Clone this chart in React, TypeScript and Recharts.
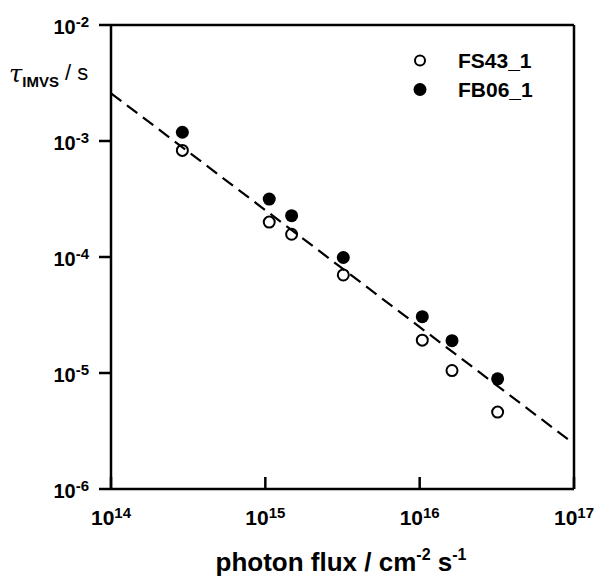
import React from "react";
import {
  ScatterChart,
  Scatter,
  XAxis,
  YAxis,
  ReferenceLine,
  Legend,
} from "recharts";

// photon flux (cm^-2 s^-1) and tau IMVS (s)
const fluxFS43 = [2.9e14, 1.06e15, 1.48e15, 3.2e15, 1.04e16, 1.62e16, 3.2e16];
const tauFS43 = [8.3e-4, 2.0e-4, 1.57e-4, 7.0e-5, 1.92e-5, 1.05e-5, 4.6e-6];

const fluxFB06 = [2.9e14, 1.06e15, 1.48e15, 3.2e15, 1.04e16, 1.62e16, 3.2e16];
const tauFB06 = [1.19e-3, 3.16e-4, 2.27e-4, 9.9e-5, 3.06e-5, 1.9e-5, 8.9e-6];

// dashed fit line end points
const fitFlux = [1e14, 1e17];
const fitTau = [2.58e-3, 2.45e-6];

const xTicks = [1e14, 1e15, 1e16, 1e17];
const yTicks = [1e-6, 1e-5, 1e-4, 1e-3, 1e-2];

const toPoints = (xs: number[], ys: number[]) =>
  xs.map((x, i) => ({ x, y: ys[i] }));

const fs43 = toPoints(fluxFS43, tauFS43);
const fb06 = toPoints(fluxFB06, tauFB06);
const fit = toPoints(fitFlux, fitTau);

const font = "'Liberation Sans', Arial, sans-serif";
const exp = (v: number) => Math.round(Math.log10(v));

const XTick = (props: any) => {
  const { x, y, payload } = props;
  return (
    <text x={x} y={y} textAnchor="middle" fontFamily={font} fontWeight="bold" fill="#000">
      <tspan fontSize={21} dy={48}>10</tspan>
      <tspan fontSize={15} dy={-7}>{exp(payload.value)}</tspan>
    </text>
  );
};

const YTick = (props: any) => {
  const { x, y, payload } = props;
  return (
    <text x={x - 8} y={y} textAnchor="end" fontFamily={font} fontWeight="bold" fill="#000">
      <tspan fontSize={20} dy={9}>10</tspan>
      <tspan fontSize={15} dy={-7}>{exp(payload.value)}</tspan>
    </text>
  );
};

const OpenDot = (props: any) => (
  <circle cx={props.cx} cy={props.cy} r={5.5} fill="#fff" stroke="#000" strokeWidth={2} />
);
const FilledDot = (props: any) => (
  <circle cx={props.cx} cy={props.cy} r={6.5} fill="#000" />
);

const LegendBox = () => (
  <div style={{ fontFamily: font, fontWeight: "bold", fontSize: 21, lineHeight: "29px" }}>
    {[
      { name: "FS43_1", filled: false },
      { name: "FB06_1", filled: true },
    ].map((item) => (
      <div key={item.name} style={{ display: "flex", alignItems: "center" }}>
        <svg width={46} height={29}>
          {item.filled ? (
            <circle cx={8} cy={14.5} r={6.5} fill="#000" />
          ) : (
            <circle cx={8} cy={14.5} r={5} fill="#fff" stroke="#000" strokeWidth={2} />
          )}
        </svg>
        <span>{item.name}</span>
      </div>
    ))}
  </div>
);

const App: React.FC = () => {
  return (
    <div style={{ position: "absolute", left: 0, top: 0, background: "#fff" }}>
      <ScatterChart
        width={598}
        height={576}
        margin={{ top: 25, right: 24, bottom: 0, left: 0 }}
      >
        <XAxis
          type="number"
          dataKey="x"
          scale="log"
          domain={[1e14, 1e17]}
          ticks={xTicks}
          interval={0}
          height={87}
          stroke="#000"
          strokeWidth={2.5}
          tickSize={-12}
          tickMargin={0}
          tick={<XTick />}
          allowDataOverflow
          label={{
            content: () => (
              <text x={341} y={571} textAnchor="middle" fontFamily={font} fontWeight="bold" fontSize={26} fill="#000">
                photon flux / cm
                <tspan fontSize={16} dy={-11}>-2</tspan>
                <tspan fontSize={26} dy={11}> s</tspan>
                <tspan fontSize={16} dy={-11}>-1</tspan>
              </text>
            ),
          }}
        />
        <YAxis
          type="number"
          dataKey="y"
          scale="log"
          domain={[1e-6, 1e-2]}
          ticks={yTicks}
          interval={0}
          width={111}
          stroke="#000"
          strokeWidth={2.5}
          tickSize={12}
          tickMargin={2}
          tick={<YTick />}
          allowDataOverflow
          label={{
            content: () => (
              <text x={9} y={82} fill="#000">
                <tspan fontFamily="'DejaVu Serif', serif" fontStyle="italic" fontSize={24}>τ</tspan>
                <tspan fontFamily={font} fontWeight="bold" fontSize={15} dy={5}>IMVS</tspan>
                <tspan fontFamily={font} fontSize={22} dx={6} dy={-7}>/ s</tspan>
              </text>
            ),
          }}
        />
        <ReferenceLine y={1e-2} stroke="#000" strokeWidth={2.5} ifOverflow="visible" />
        <ReferenceLine x={1e17} stroke="#000" strokeWidth={2.5} ifOverflow="visible" />
        <Scatter
          data={fs43}
          shape={<OpenDot />}
          isAnimationActive={false}
        />
        <Scatter
          data={fit}
          line={{ stroke: "#000", strokeWidth: 2.2, strokeDasharray: "13 7" }}
          shape={() => <g />}
          isAnimationActive={false}
        />
        <Scatter
          data={fb06}
          shape={<FilledDot />}
          isAnimationActive={false}
        />
        <Legend
          layout="vertical"
          verticalAlign="middle"
          align="center"
          wrapperStyle={{ top: 46, left: 412, width: 160 }}
          content={<LegendBox />}
        />
      </ScatterChart>
    </div>
  );
};

export default App;
